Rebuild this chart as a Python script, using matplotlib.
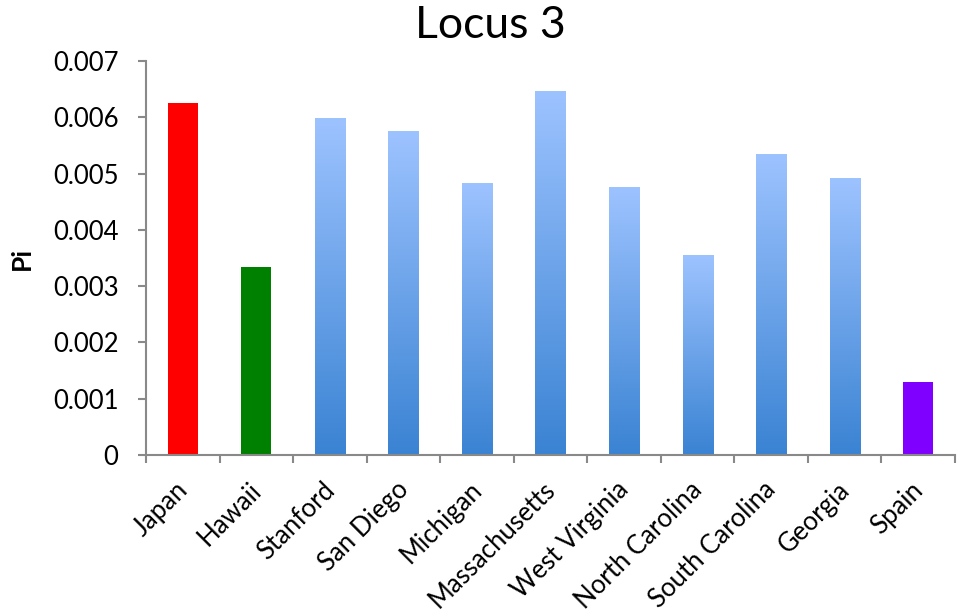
import matplotlib
matplotlib.use("Agg")
import matplotlib.pyplot as plt
import numpy as np
from matplotlib.colors import LinearSegmentedColormap
from matplotlib.transforms import ScaledTranslation

categories = ["Japan", "Hawaii", "Stanford", "San Diego", "Michigan", "Massachusetts",
              "West Virginia", "North Carolina", "South Carolina", "Georgia", "Spain"]
values = [0.00625, 0.00334, 0.00597, 0.00575, 0.00483, 0.00645,
          0.00476, 0.00355, 0.00533, 0.00492, 0.00130]
solid_colors = {"Japan": "#FF0000", "Hawaii": "#008000", "Spain": "#8000FF"}
yticks = [0, 0.001, 0.002, 0.003, 0.004, 0.005, 0.006, 0.007]
ytick_labels = ["0", "0.001", "0.002", "0.003", "0.004", "0.005", "0.006", "0.007"]

plt.rcParams['font.family'] = ['Lato', 'DejaVu Sans']

fig = plt.figure(figsize=(9.69, 6.15), dpi=100)
ax = fig.add_axes([146/969, 160/615, (955-146)/969, (455-61)/615])

x = np.arange(len(categories))
bars = ax.bar(x, values, width=0.41, color=[solid_colors.get(c, "none") for c in categories],
              zorder=2)

cmap = LinearSegmentedColormap.from_list("g", ["#3A83D3", "#9DC3FF"])
grad = np.linspace(0, 1, 256).reshape(-1, 1)
for b, c in zip(bars, categories):
    if c in solid_colors:
        continue
    x0, w, h = b.get_x(), b.get_width(), b.get_height()
    ax.imshow(grad, cmap=cmap, origin="lower", aspect="auto",
              extent=[x0, x0 + w, 0, h], zorder=2)

ax.set_xlim(-0.5, len(categories) - 0.5)
ax.set_ylim(0, 0.007)
ax.set_yticks(yticks)
ax.set_yticklabels(ytick_labels, fontsize=18.5)
ax.set_xticks(x)
ax.set_xticklabels(categories, rotation=45, ha="right", va="top", rotation_mode="anchor",
                   fontsize=18.5)
ax.tick_params(axis="x", length=0, pad=16)
offset = ScaledTranslation(-8/100, 0, fig.dpi_scale_trans)
for lab in ax.get_xticklabels():
    lab.set_transform(lab.get_transform() + offset)
ax.set_xticks(np.arange(-0.5, len(categories)), minor=True)
ax.tick_params(axis="x", which="minor", length=5.8, width=1.5, color="#898989", direction="out")
ax.tick_params(axis="y", length=5.8, width=1.5, color="#898989", direction="out", pad=14)

for s in ["top", "right"]:
    ax.spines[s].set_visible(False)
for s in ["left", "bottom"]:
    ax.spines[s].set_color("#898989")
    ax.spines[s].set_linewidth(1.5)

ax.set_ylabel("Pi", fontsize=19, fontweight="bold", labelpad=14)
fig.text(490/969, 1 - 26/615, "Locus 3", ha="center", va="center", fontsize=32)

fig.savefig("out.png", dpi=100, facecolor="white")
